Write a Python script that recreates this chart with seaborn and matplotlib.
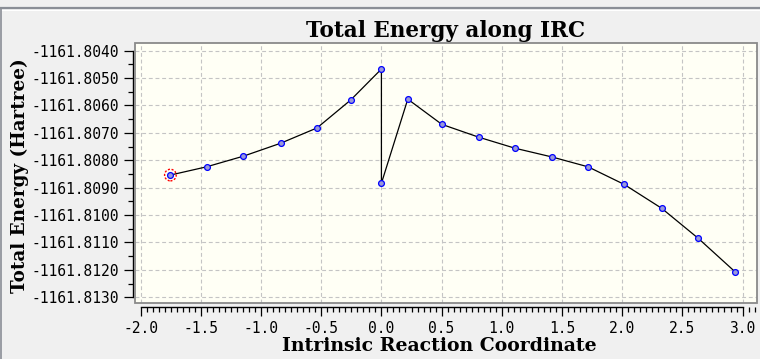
import matplotlib
matplotlib.use('Agg')
import matplotlib.pyplot as plt
from matplotlib.lines import Line2D
from matplotlib.patches import Rectangle
from matplotlib.ticker import MultipleLocator, FormatStrFormatter
import seaborn as sns
import pandas as pd

# ── данные IRC (порядок точек важен: x=0 встречается дважды) ────────────────
irc_coord = [-1.753, -1.453, -1.146, -0.838, -0.535, -0.255, 0.0, 0.0,
             0.219, 0.502, 0.810, 1.109, 1.417, 1.717, 2.016, 2.327, 2.632, 2.940]
energy = [-1161.80854, -1161.80824, -1161.80785, -1161.80738, -1161.80682,
          -1161.80580, -1161.80467, -1161.80884, -1161.80577, -1161.80669,
          -1161.80716, -1161.80756, -1161.80788, -1161.80824, -1161.80888,
          -1161.80975, -1161.81085, -1161.81208]
current_point = 0  # обведённая красным точка

title = "Total Energy along IRC"
xlabel = "Intrinsic Reaction Coordinate"
ylabel = "Total Energy (Hartree)"

df = pd.DataFrame({"x": irc_coord, "y": energy})

sns.set_style("ticks")
plt.rcParams["axes.unicode_minus"] = False
plt.rcParams["text.color"] = "black"
plt.rcParams["axes.labelcolor"] = "black"
plt.rcParams["xtick.labelcolor"] = "black"
plt.rcParams["ytick.labelcolor"] = "black"

fig = plt.figure(figsize=(7.6, 3.59), dpi=100, facecolor="#f0f0f0")
ax = fig.add_axes([135 / 760, 1 - 303 / 359, 622 / 760, 260 / 359])
ax.set_facecolor("#fffff5")

sns.lineplot(data=df, x="x", y="y", sort=False, estimator=None, ax=ax,
             color="black", linewidth=0.9, marker="o", markersize=4.2,
             markerfacecolor="#9a9ad8", markeredgecolor="#0000ff",
             markeredgewidth=0.9, zorder=3)
ax.scatter([irc_coord[current_point]], [energy[current_point]], s=70,
           facecolors="none", edgecolors="red", linewidths=1.0,
           linestyles=(0, (1.5, 1.2)), zorder=4)

ax.set_xlim(-2.047, 3.12)
ax.set_ylim(-1161.81321, -1161.80372)

ax.xaxis.set_major_locator(MultipleLocator(0.5))
ax.xaxis.set_minor_locator(MultipleLocator(0.05))
ax.xaxis.set_major_formatter(FormatStrFormatter("%.1f"))
ax.yaxis.set_major_locator(MultipleLocator(0.001))
ax.yaxis.set_minor_locator(MultipleLocator(0.0005))
ax.yaxis.set_major_formatter(FormatStrFormatter("%.4f"))

ax.grid(True, which="major", color="#c4c4c4", linestyle=(0, (3.5, 2.5)),
        linewidth=0.8, zorder=0)

# рамка области графика серая, оси вынесены наружу
for s in ["top", "right"]:
    ax.spines[s].set_visible(False)
ax.spines["left"].set_position(("outward", 1.7))
ax.spines["bottom"].set_position(("outward", 2.6))
ax.spines["left"].set_bounds(-1161.813, -1161.804)
ax.spines["bottom"].set_bounds(-2.0, 3.0)
for s in ["left", "bottom"]:
    ax.spines[s].set_color("black")
    ax.spines[s].set_linewidth(1.0)
ax.add_patch(Rectangle((0, 0), 1, 1, transform=ax.transAxes, fill=False,
                       edgecolor="#8a8a8a", linewidth=1.3, clip_on=False, zorder=5))

ax.tick_params(axis="both", which="major", length=6.3, width=0.9, color="black",
               labelsize=10.5, labelfontfamily="DejaVu Sans Mono", pad=3.5,
               labelcolor="black")
ax.tick_params(axis="both", which="minor", length=3.8, width=0.9, color="black")
ax.tick_params(axis="x", which="major", pad=4.0)

ax.set_title(title, fontfamily="DejaVu Serif", fontweight="bold",
             fontsize=15.5, pad=4, color="black")
ax.set_xlabel(xlabel, fontfamily="DejaVu Serif", fontweight="bold",
              fontsize=13.6, color="black")
ax.set_ylabel(ylabel, fontfamily="DejaVu Serif", fontweight="bold",
              fontsize=13.2, color="black")
ax.xaxis.set_label_coords(0.49, -0.132)
ax.yaxis.set_label_coords(-0.171, 0.49)

# окантовка окна
fig.add_artist(Line2D([0, 1], [1 - 7.5 / 359] * 2, color="#8a8e96",
                      linewidth=1.6, transform=fig.transFigure))
fig.add_artist(Line2D([0, 1], [1 - 9.5 / 359] * 2, color="white",
                      linewidth=0.8, transform=fig.transFigure))
fig.add_artist(Line2D([0.7 / 760] * 2, [0, 1 - 7.5 / 359], color="#8a8e96",
                      linewidth=1.2, transform=fig.transFigure))

fig.savefig("out.png", dpi=100, facecolor=fig.get_facecolor())
